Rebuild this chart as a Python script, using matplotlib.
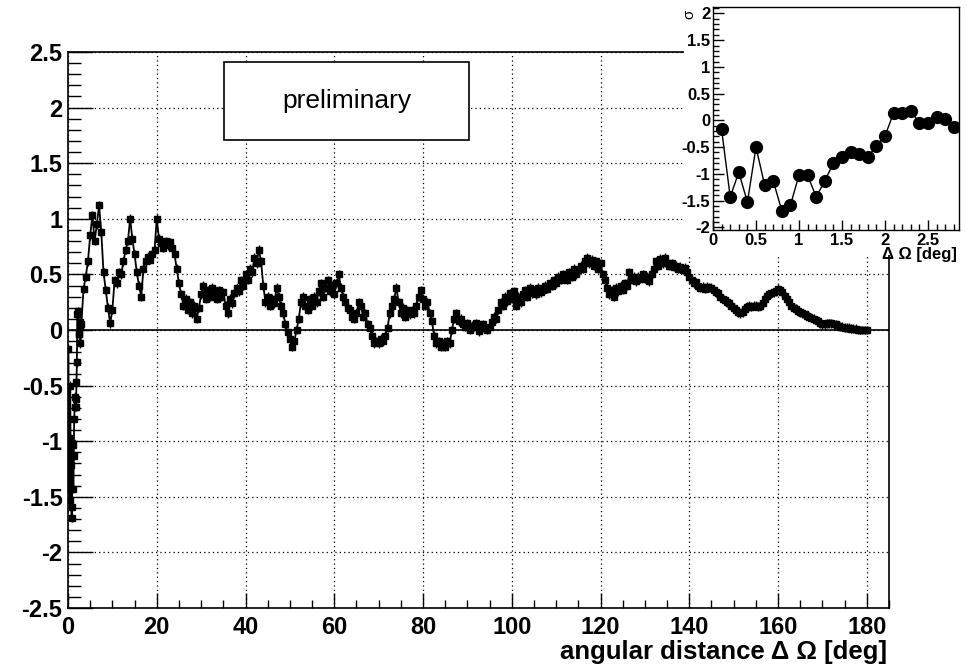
import matplotlib
matplotlib.use("Agg")
import matplotlib.pyplot as plt
import numpy as np
from matplotlib.ticker import MultipleLocator, FuncFormatter
from matplotlib.patches import Rectangle

plt.rcParams['font.family'] = ['Liberation Sans', 'DejaVu Sans']
plt.rcParams['axes.unicode_minus'] = False

# first 2.8 deg, 0.1 deg steps (same points as the inset)
inset_x = [0.1, 0.2, 0.3, 0.4, 0.5, 0.6, 0.7, 0.8, 0.9, 1.0,
           1.1, 1.2, 1.3, 1.4, 1.5, 1.6, 1.7, 1.8, 1.9, 2.0,
           2.1, 2.2, 2.3, 2.4, 2.5, 2.6, 2.7, 2.8]
inset_sigma = [-0.17, -1.43, -0.97, -1.53, -0.50, -1.21, -1.13, -1.69, -1.59, -1.02,
               -1.03, -1.43, -1.13, -0.80, -0.69, -0.60, -0.62, -0.69, -0.47, -0.29,
               0.14, 0.14, 0.17, -0.04, -0.04, 0.07, 0.03, -0.12]

# from 3 deg to 180 deg, read every 0.5 deg
main_start = 3.0
main_step = 0.5
main_sigma = [
    0.05, 0.37, 0.48, 0.62, 0.85, 1.03, 0.80, 0.95, 1.12, 0.88,
    0.52, 0.36, 0.20, 0.06, 0.18, 0.45, 0.42, 0.52, 0.50, 0.62,
    0.72, 0.80, 1.00, 0.82, 0.68, 0.52, 0.40, 0.30, 0.55, 0.62,
    0.66, 0.63, 0.68, 0.72, 1.00, 0.82, 0.78, 0.74, 0.80, 0.76,
    0.79, 0.74, 0.68, 0.55, 0.42, 0.32, 0.22, 0.28, 0.18, 0.25,
    0.15, 0.22, 0.10, 0.20, 0.32, 0.40, 0.28, 0.36, 0.30, 0.38,
    0.33, 0.28, 0.36, 0.30, 0.34, 0.22, 0.15, 0.28, 0.24, 0.33,
    0.38, 0.35, 0.45, 0.40, 0.50, 0.45, 0.55, 0.52, 0.65, 0.60,
    0.72, 0.62, 0.40, 0.25, 0.30, 0.22, 0.28, 0.24, 0.38, 0.30,
    0.22, 0.15, 0.05, -0.02, -0.08, -0.15, -0.10, 0.00, 0.10, 0.25,
    0.30, 0.22, 0.18, 0.28, 0.22, 0.30, 0.25, 0.35, 0.42, 0.30,
    0.38, 0.45, 0.35, 0.40, 0.32, 0.42, 0.50, 0.38, 0.30, 0.25,
    0.20, 0.18, 0.12, 0.10, 0.15, 0.25, 0.22, 0.12, 0.15, 0.05,
    0.02, -0.05, -0.12, -0.10, -0.12, -0.08, -0.10, -0.05, 0.02, 0.15,
    0.22, 0.28, 0.38, 0.25, 0.15, 0.20, 0.12, 0.18, 0.14, 0.18,
    0.15, 0.22, 0.30, 0.36, 0.28, 0.22, 0.25, 0.15, 0.08, -0.05,
    -0.12, -0.10, -0.15, -0.12, -0.15, -0.10, -0.12, 0.00, 0.10, 0.15,
    0.08, 0.10, 0.05, 0.03, 0.06, 0.00, 0.04, 0.03, 0.06, -0.01,
    0.02, 0.05, 0.02, 0.00, 0.03, 0.07, 0.12, 0.10, 0.18, 0.25,
    0.22, 0.30, 0.26, 0.33, 0.28, 0.35, 0.22, 0.30, 0.25, 0.32,
    0.36, 0.30, 0.38, 0.33, 0.36, 0.32, 0.38, 0.34, 0.36, 0.40,
    0.37, 0.42, 0.40, 0.45, 0.42, 0.48, 0.45, 0.50, 0.48, 0.45,
    0.52, 0.48, 0.55, 0.50, 0.54, 0.58, 0.55, 0.62, 0.65, 0.60,
    0.63, 0.58, 0.62, 0.55, 0.60, 0.50, 0.45, 0.38, 0.32, 0.36,
    0.30, 0.38, 0.35, 0.40, 0.36, 0.42, 0.40, 0.52, 0.45, 0.48,
    0.44, 0.48, 0.46, 0.50, 0.46, 0.48, 0.44, 0.50, 0.55, 0.62,
    0.58, 0.64, 0.60, 0.65, 0.60, 0.58, 0.60, 0.57, 0.58, 0.55,
    0.57, 0.54, 0.56, 0.52, 0.48, 0.45, 0.42, 0.43, 0.40, 0.38,
    0.39, 0.37, 0.39, 0.38, 0.38, 0.36, 0.34, 0.33, 0.30, 0.28,
    0.27, 0.25, 0.24, 0.22, 0.20, 0.18, 0.16, 0.15, 0.16, 0.19,
    0.21, 0.22, 0.21, 0.22, 0.22, 0.21, 0.22, 0.24, 0.28, 0.31,
    0.32, 0.33, 0.34, 0.35, 0.37, 0.36, 0.34, 0.31, 0.28, 0.25,
    0.22, 0.20, 0.19, 0.17, 0.16, 0.15, 0.14, 0.13, 0.12, 0.11,
    0.10, 0.09, 0.08, 0.06, 0.05, 0.05, 0.06, 0.06, 0.06, 0.05,
    0.05, 0.04, 0.03, 0.03, 0.02, 0.02, 0.02, 0.01, 0.01, 0.01,
    0.00, 0.00, 0.00, 0.00, 0.00,
]
sigma_err = 0.04

main_x = np.concatenate([inset_x, main_start + main_step * np.arange(len(main_sigma))])
main_y = np.concatenate([inset_sigma, main_sigma])

W, H = 967, 664
fig = plt.figure(figsize=(W / 100, H / 100), dpi=100)
fmt = FuncFormatter(lambda v, p: '%g' % v)

# main pad
ax = fig.add_axes([68 / W, 1 - 608 / H, (889 - 68) / W, (608 - 52) / H])
ax.set_xlim(0, 185)
ax.set_ylim(-2.5, 2.5)
ax.xaxis.set_major_locator(MultipleLocator(20))
ax.xaxis.set_minor_locator(MultipleLocator(5))
ax.yaxis.set_major_locator(MultipleLocator(0.5))
ax.yaxis.set_minor_locator(MultipleLocator(0.1))
ax.xaxis.set_major_formatter(fmt)
ax.yaxis.set_major_formatter(fmt)
ax.tick_params(axis='y', which='major', direction='in', length=18, width=1, pad=4)
ax.tick_params(axis='y', which='minor', direction='in', length=9, width=1)
ax.tick_params(axis='x', which='major', direction='in', length=11, width=1, pad=6)
ax.tick_params(axis='x', which='minor', direction='in', length=6, width=1)
for lab in ax.get_xticklabels() + ax.get_yticklabels():
    lab.set_fontsize(17)
    lab.set_fontweight('bold')
for s in ax.spines.values():
    s.set_linewidth(1.2)
ax.grid(True, which='major', color='black', linestyle=(0, (1, 2.5)), linewidth=0.9)
ax.axhline(0, color='black', lw=1.2, zorder=2)
ax.errorbar(main_x, main_y, yerr=sigma_err, fmt='s-', color='black', ms=4.5,
            lw=1.3, elinewidth=1.0, capsize=0, zorder=3)

ax.text(62.8, 2.06, 'preliminary', fontsize=19, ha='center', va='center', zorder=5,
        bbox=dict(boxstyle='square,pad=0', fc='white', ec='none'))
ax.add_patch(Rectangle((35.2, 1.71), 55.2, 0.70, fc='white', ec='black', lw=1.2, zorder=4))

fig.text(887 / W, 1 - 652 / H, 'angular distance \u0394 \u03a9 [deg]', fontsize=18.5,
         fontweight='bold', ha='right', va='center')

# white pad behind the inset
fig.add_artist(Rectangle((684 / W, 1 - 255 / H), (W - 684) / W, 255 / H,
                         transform=fig.transFigure, fc='white', ec='none', zorder=1))

ins = fig.add_axes([713 / W, 1 - 230 / H, (959 - 713) / W, (230 - 7) / H], zorder=2)
ins.set_xlim(0, 2.86)
ins.set_ylim(-2.05, 2.12)
ins.xaxis.set_major_locator(MultipleLocator(0.5))
ins.xaxis.set_minor_locator(MultipleLocator(0.1))
ins.yaxis.set_major_locator(MultipleLocator(0.5))
ins.yaxis.set_minor_locator(MultipleLocator(0.1))
ins.xaxis.set_major_formatter(fmt)
ins.yaxis.set_major_formatter(fmt)
ins.tick_params(axis='y', which='major', direction='in', length=8, width=1, pad=2)
ins.tick_params(axis='y', which='minor', direction='in', length=4, width=1)
ins.tick_params(axis='x', which='major', direction='in', length=7, width=1, pad=2)
ins.tick_params(axis='x', which='minor', direction='in', length=4, width=1)
for lab in ins.get_xticklabels() + ins.get_yticklabels():
    lab.set_fontsize(12)
    lab.set_fontweight('bold')
for s in ins.spines.values():
    s.set_linewidth(1.0)
ins.plot(inset_x, inset_sigma, 'o-', color='black', ms=8.5, lw=1.0)
fig.text(957 / W, 1 - 254 / H, '\u0394 \u03a9 [deg]', fontsize=12, fontweight='bold',
         ha='right', va='center')
fig.text(689 / W, 1 - 14 / H, '\u03c3', fontsize=11, rotation=90, ha='center', va='center')

fig.savefig('out.png', dpi=100)
